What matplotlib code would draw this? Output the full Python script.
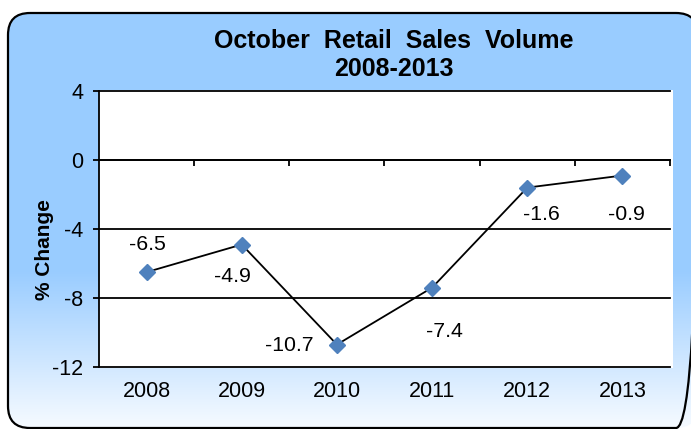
import numpy as np
import matplotlib
matplotlib.use("Agg")
import matplotlib.pyplot as plt
from matplotlib.patches import FancyBboxPatch

# chart data
years = ["2008", "2009", "2010", "2011", "2012", "2013"]
pct_change = [-6.5, -4.9, -10.7, -7.4, -1.6, -0.9]
y_ticks = [-12, -8, -4, 0, 4]

# label offsets (points) so the numbers sit where the original put them
label_offsets = [(0.7, 20), (-7, -23), (-34.5, -0.5), (8.6, -31.7), (10, -19.4), (2.9, -28)]

W, H = 691, 429
plt.rcParams['font.family'] = ['Liberation Sans', 'DejaVu Sans']

fig = plt.figure(figsize=(W / 100, H / 100), dpi=100)
fig.patch.set_facecolor("white")

# background: rounded box with blue -> white gradient
bg = fig.add_axes([0, 0, 1, 1], zorder=0)
bg.set_xlim(0, W)
bg.set_ylim(H, 0)
bg.axis("off")
blue = np.array([0.60, 0.80, 1.0])
white = np.array([0.97, 0.985, 1.0])
rows = np.arange(H)
t = np.clip((rows - 270) / (H - 270), 0, 1)[:, None]
grad = (blue * (1 - t) + white * t)[:, None, :]
box = FancyBboxPatch((8, 13), 690, 415, boxstyle="round,pad=0,rounding_size=22",
                     facecolor="none", edgecolor="black", lw=1.6, zorder=3)
bg.add_patch(box)
im = bg.imshow(grad, extent=(0, W, H, 0), aspect="auto", zorder=1)
im.set_clip_path(box)

# white plot area (slightly wider than the gridlines, like the original)
fig.patches.append(plt.Rectangle((99 / W, 1 - 368 / H), (673 - 99) / W, (368 - 90) / H,
                                 transform=fig.transFigure, facecolor="white",
                                 edgecolor="none", zorder=1))

ax = fig.add_axes([99 / W, 1 - 367 / H, (670 - 99) / W, (367 - 91) / H], zorder=2)
ax.patch.set_alpha(0)
x = np.arange(len(years))
ax.plot(x, pct_change, color="black", lw=1.3, marker="D", ms=8.3,
        markerfacecolor="#4F81BD", markeredgecolor="#4F81BD", zorder=4, clip_on=False)

for xi, v, off in zip(x, pct_change, label_offsets):
    ax.annotate(f"{v}", (xi, v), xytext=off, textcoords="offset points",
                ha="center", va="center", fontsize=15.3)

ax.set_xlim(-0.5, len(years) - 0.5)
ax.set_ylim(-12, 4)
ax.set_yticks(y_ticks)
ax.set_yticklabels([str(v) for v in y_ticks])
ax.yaxis.grid(True, color="black", lw=1.3)
for gl in ax.get_ygridlines():
    gl.set_clip_on(False)
ax.tick_params(axis="y", length=4.3, width=1.3, pad=7, labelsize=15.5)

# category axis crosses at zero, ticks between categories
ax.spines["bottom"].set_position(("data", 0))
ax.spines["bottom"].set_linewidth(1.3)
ax.set_xticks(np.arange(0.5, len(years), 1.0))
ax.set_xticklabels([])
ax.tick_params(axis="x", length=4.3, width=1.3, direction="out")
for xi, name in zip(x, years):
    ax.annotate(name, (xi, -12), xytext=(0, -17.5), textcoords="offset points",
                ha="center", va="center", fontsize=15.5)

ax.spines["top"].set_visible(False)
ax.spines["right"].set_visible(False)
ax.spines["left"].set_linewidth(1.3)

fig.text(394 / W, 1 - 55 / H, "October  Retail  Sales  Volume\n2008-2013", ha="center",
         va="center", fontsize=18, fontweight="bold", linespacing=1.2)
fig.text(45 / W, 1 - 250 / H, "% Change", rotation=90, ha="center", va="center",
         fontsize=15, fontweight="bold")

fig.savefig("out.png", dpi=100)
